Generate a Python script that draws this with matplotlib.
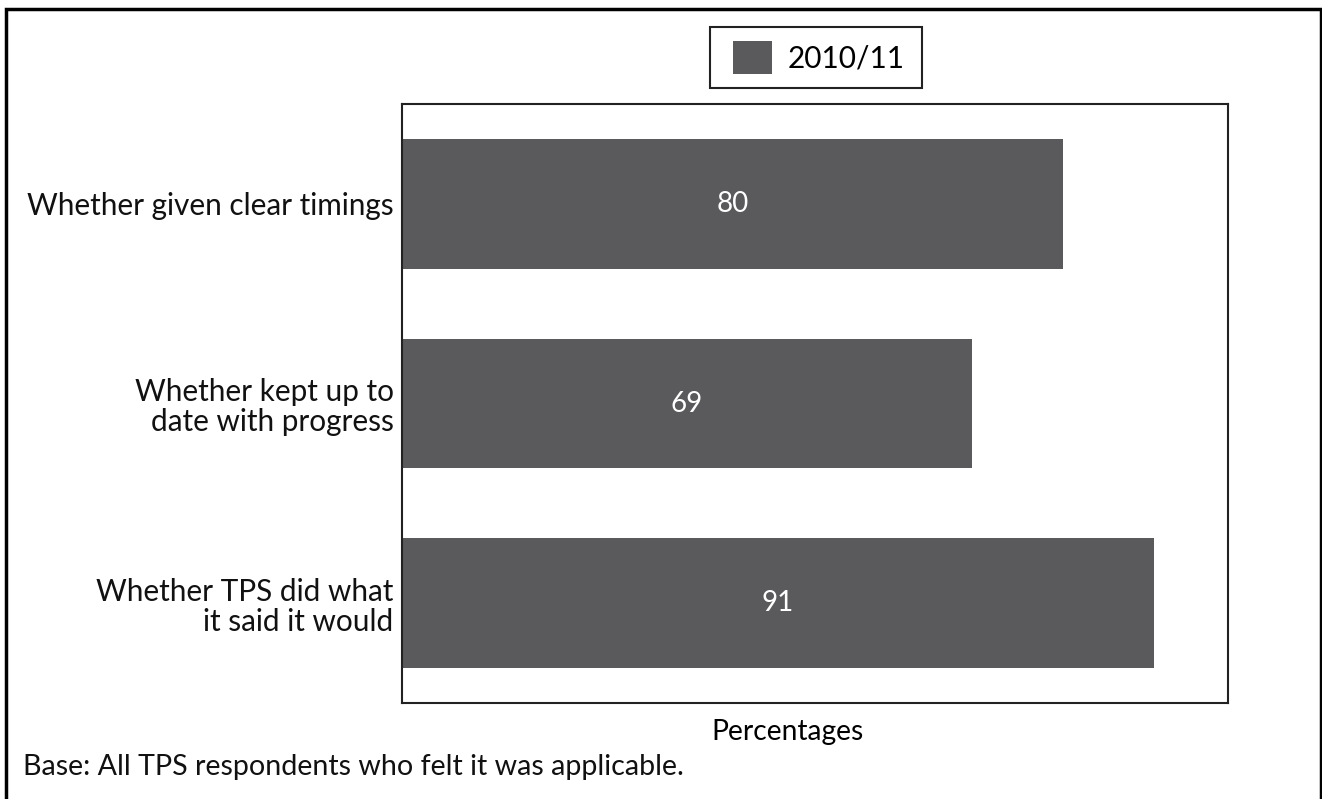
import matplotlib

matplotlib.use("Agg")

import matplotlib.pyplot as plt
from matplotlib.patches import Rectangle

categories = [
    "Whether given clear timings",
    "Whether kept up to\ndate with progress",
    "Whether TPS did what\nit said it would",
]
values = [80, 69, 91]
series_name = "2010/11"

BAR_COLOR = "#5a5a5c"
LINE_COLOR = "#222222"

plt.rcParams["font.family"] = ["Lato", "DejaVu Sans"]

W, H = 1322, 799
fig = plt.figure(figsize=(W / 100, H / 100), dpi=100)


def fx(px):
    return px / W


def fy(py):
    return 1 - py / H


ax = fig.add_axes([fx(402), fy(703), (1228 - 402) / W, (703 - 104) / H])

ypos = list(range(len(categories)))
bars = ax.barh(ypos, values, height=0.65, color=BAR_COLOR, label=series_name)
for rect, v in zip(bars, values):
    ax.text(v / 2, rect.get_y() + rect.get_height() / 2, f"{v}",
            ha="center", va="center", color="white", fontsize=20)

ax.set_xlim(0, 100)
ax.set_ylim(2.5, -0.5)
ax.set_yticks(ypos)
ax.set_yticklabels(categories, fontsize=21.4, linespacing=1.1, color="#111111")
ax.set_xticks([])
ax.tick_params(axis="y", length=0, pad=6)
for s in ax.spines.values():
    s.set_linewidth(1.5)
    s.set_color(LINE_COLOR)

fig.text(fx(787), fy(740), "Percentages", ha="center", va="baseline", fontsize=20.3)
fig.text(fx(23), fy(775), "Base: All TPS respondents who felt it was applicable.",
         ha="left", va="baseline", fontsize=20.6, color="#111111")

# legend: contents from the bars, frame drawn as its own box
leg = fig.legend(handles=[bars], labels=[series_name], loc="center left",
                 bbox_to_anchor=(fx(733), fy(57.5)), fontsize=21.4,
                 frameon=False, borderpad=0, borderaxespad=0,
                 handlelength=1.31, handleheight=1.31, handletextpad=0.54)
fig.patches.append(Rectangle((fx(710), fy(88)), (922 - 710) / W, (88 - 27) / H,
                             transform=fig.transFigure, fill=False,
                             edgecolor=LINE_COLOR, linewidth=1.5))

# outer border (open at the bottom)
fig.patches.append(Rectangle((fx(6), -0.05), (1321 - 6) / W, 1.05 - 9 / H,
                             transform=fig.transFigure, fill=False,
                             edgecolor="black", linewidth=2.5))

fig.savefig("out.png", dpi=100)
